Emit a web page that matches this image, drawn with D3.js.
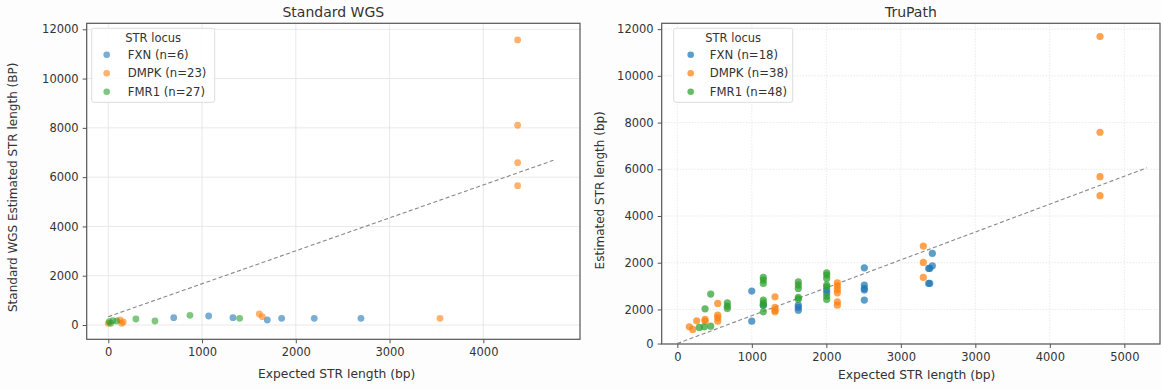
<!DOCTYPE html>
<html lang="en">
<head>
  <meta charset="UTF-8">
  <title>STR length</title>
  <style>
    body { margin: 0; background: #fdfdfd; }
    text { font-family: "DejaVu Sans", sans-serif; fill: #333; }
  </style>
</head>
<body>
<svg width=1161 height=389 id="viz"></svg>
<script src="https://cdn.jsdelivr.net/npm/d3@7"></script>
<script>
/* global d3 */

// ---- data ----
const loci = ["FXN", "DMPK", "FMR1"];
const colors = ["#1f77b4", "#ff7f0e", "#2ca02c"];

const wgsLegend = ["FXN (n=6)", "DMPK (n=23)", "FMR1 (n=27)"];
const wgsFXN = [[698, 296], [1071, 365], [1330, 296], [1696, 203], [1849, 272], [2197, 272], [2695, 272]];
const wgsDMPK = [[0, 69], [125, 203], [143, 69], [160, 122], [1611, 446], [1643, 337], [3538, 272],
  [4366, 11567], [4366, 8105], [4366, 6588], [4366, 5655]];
const wgsFMR1 = [[11, 134], [26, 69], [47, 174], [90, 162], [295, 243], [498, 162], [871, 394], [1401, 272]];
const wgsRef = [[0, 337], [4748, 6684]];
const wgsXTicks = [0, 1000, 2000, 3000, 4000];
const wgsYTicks = [0, 2000, 4000, 6000, 8000, 10000, 12000];

const truLegend = ["FXN (n=18)", "DMPK (n=38)", "FMR1 (n=48)"];
const truFXN = [[999, 784], [999, -501], [1154, 184], [1624, 184], [1624, 86], [1624, -30], [2005, 827], [2005, 711],
  [2510, 1783], [2510, 1041], [2510, 900], [2510, 827], [2510, 399],
  [3374, 1757], [3388, 1757], [3374, 1114], [3388, 1114], [3423, 2400], [3423, 1869]];
const truDMPK = [[161, -746], [207, -857], [260, -489], [372, -429], [372, -501], [542, 257], [542, -244], [542, -360], [542, -501],
  [1311, 540], [1311, 86], [1311, -30], [1311, -103],
  [2148, 1140], [2148, 999], [2148, 857], [2148, 711], [2148, 326], [2148, 184],
  [3302, 2713], [3302, 2014], [3302, 1372],
  [5674, 11684], [5674, 7586], [5674, 5683], [5674, 4869]];
const truFMR1 = [[295, -771], [362, -746], [448, -716], [372, 26], [448, 656], [671, 283], [671, 141], [671, 43],
  [1154, 1372], [1154, 1256], [1154, 1114], [1154, 399], [1154, 283], [1154, 184], [1154, -103],
  [1624, 1183], [1624, 1041], [1624, 900], [1624, 514], [1624, 441],
  [2005, 1569], [2005, 1470], [2005, 1329], [2005, 1041], [2005, 969], [2005, 570], [2005, 429]];
const truRef = [[0, -1460], [6300, 6060]];
const truXTicks = [0, 1000, 2000, 3000, 4000, 5000, 6000];
const truXLabels = ["0", "1000", "2000", "3000", "3000", "4000", "5000"];
const truYTicks = [-1460, 0, 2000, 4000, 6000, 8000, 10000, 12000];
const truYLabels = ["0", "2000", "2000", "4000", "6000", "8000", "10000", "12000"];

const svg = d3.select("#viz");

function drawPanel(p) {
  const g = svg.append("g").attr("transform", "translate(" + p.left + "," + p.top + ")");
  const x = d3.scaleLinear().domain(p.xDomain).range([0, p.width]);
  const y = d3.scaleLinear().domain(p.yDomain).range([p.height, 0]);

  g.append("rect").attr("width", p.width).attr("height", p.height).attr("fill", "#fff");

  // grid
  g.append("g").selectAll("line").data(p.xTicks).join("line")
    .attr("x1", d => x(d)).attr("x2", d => x(d)).attr("y1", 0).attr("y2", p.height)
    .attr("stroke", "#e3e3e3").attr("stroke-width", 0.8).attr("stroke-dasharray", p.gridDash);
  g.append("g").selectAll("line").data(p.yTicks).join("line")
    .attr("y1", d => y(d)).attr("y2", d => y(d)).attr("x1", 0).attr("x2", p.width)
    .attr("stroke", "#e3e3e3").attr("stroke-width", 0.8).attr("stroke-dasharray", p.gridDash);

  // reference line
  g.append("line")
    .attr("x1", x(p.ref[0][0])).attr("y1", y(p.ref[0][1]))
    .attr("x2", x(p.ref[1][0])).attr("y2", y(p.ref[1][1]))
    .attr("stroke", "#888").attr("stroke-width", 1.1).attr("stroke-dasharray", "4,2.5");

  // points
  p.series.forEach((s, i) => {
    g.append("g").selectAll("circle").data(s).join("circle")
      .attr("cx", d => x(d[0])).attr("cy", d => y(d[1])).attr("r", p.r)
      .attr("fill", colors[i]).attr("fill-opacity", p.alpha);
  });

  // axes
  const xa = g.append("g").attr("transform", "translate(0," + p.height + ")")
    .call(d3.axisBottom(x).tickValues(p.xTicks).tickFormat((d, i) => p.xLabels[i]).tickSizeOuter(0).tickSize(4).tickPadding(5));
  const ya = g.append("g")
    .call(d3.axisLeft(y).tickValues(p.yTicks).tickFormat((d, i) => p.yLabels[i]).tickSizeOuter(0).tickSize(4).tickPadding(4));
  [xa, ya].forEach(a => {
    a.select(".domain").remove();
    a.selectAll("line").attr("stroke", "#555");
    a.selectAll("text").attr("font-size", 11.5).attr("fill", "#333").attr("font-family", "DejaVu Sans, sans-serif");
  });

  g.append("rect").attr("width", p.width).attr("height", p.height)
    .attr("fill", "none").attr("stroke", "#555").attr("stroke-width", 1.2);

  // titles
  g.append("text").attr("x", p.width / 2).attr("y", -6).attr("text-anchor", "middle")
    .attr("font-size", 14).text(p.title);
  g.append("text").attr("x", p.xLabelX).attr("y", p.height + p.xLabelDy).attr("text-anchor", "middle")
    .attr("font-size", 12.3).text("Expected STR length (bp)");
  g.append("text").attr("transform", "translate(" + p.yLabelX + "," + (p.yLabelY) + ") rotate(-90)")
    .attr("text-anchor", "middle").attr("font-size", 12).text(p.yLabel);

  // legend
  const lg = g.append("g").attr("transform", "translate(" + p.legX + ",5)");
  lg.append("rect").attr("width", p.legW).attr("height", 74).attr("rx", 2)
    .attr("fill", "#fff").attr("fill-opacity", 0.85).attr("stroke", "#ddd");
  lg.append("text").attr("x", p.legW / 2).attr("y", 14).attr("text-anchor", "middle")
    .attr("font-size", 11.5).text("STR locus");
  p.legend.forEach((t, i) => {
    lg.append("circle").attr("cx", p.legDotX).attr("cy", 26.5 + i * 18.5).attr("r", 3.3)
      .attr("fill", colors[i]).attr("fill-opacity", p.alpha);
    lg.append("text").attr("x", p.legTextX).attr("y", 30.7 + i * 18.5).attr("font-size", 11.7).text(t);
  });
}

drawPanel({
  left: 86.7, top: 23.3, width: 493.3, height: 316,
  xDomain: [-230, 5031], yDomain: [-580, 12243],
  xTicks: wgsXTicks, xLabels: wgsXTicks.map(String),
  yTicks: wgsYTicks, yLabels: wgsYTicks.map(String),
  series: [wgsFXN, wgsDMPK, wgsFMR1], ref: wgsRef,
  r: 3.4, alpha: 0.6, gridDash: null,
  title: "Standard WGS", yLabel: "Standard WGS Estimated STR length (BP)",
  xLabelX: 250, xLabelDy: 39, yLabelX: -70, yLabelY: 164,
  legend: wgsLegend, legX: 5, legW: 123, legDotX: 15, legTextX: 36
});

drawPanel({
  left: 661.7, top: 23.3, width: 498.3, height: 320.7,
  xDomain: [-210, 6479], yDomain: [-1480, 12250],
  xTicks: truXTicks, xLabels: truXLabels,
  yTicks: truYTicks, yLabels: truYLabels,
  series: [truFXN, truDMPK, truFMR1], ref: truRef,
  r: 3.6, alpha: 0.72, gridDash: "1.5,1.5",
  title: "TruPath", yLabel: "Estimated STR length (bp)",
  xLabelX: 255, xLabelDy: 35, yLabelX: -58, yLabelY: 167,
  legend: truLegend, legX: 12, legW: 119, legDotX: 17, legTextX: 36
});
</script>
</body>
</html>
